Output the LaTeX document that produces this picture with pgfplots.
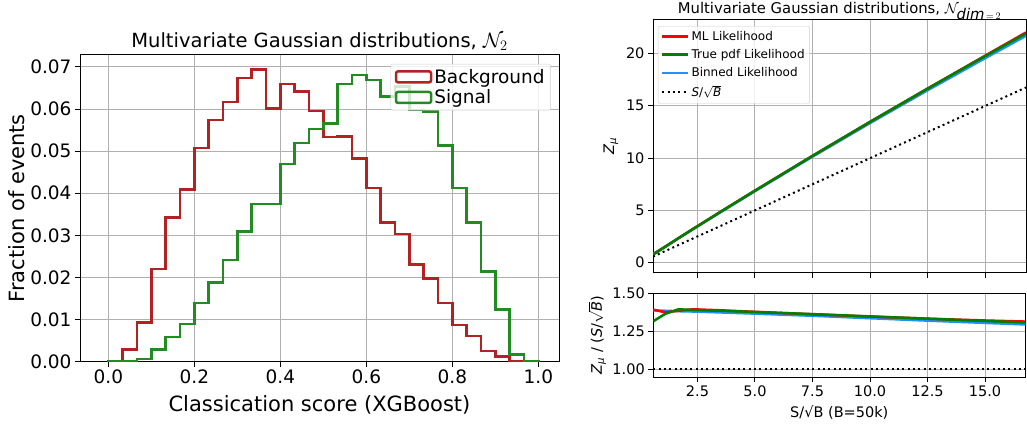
\documentclass[border=0pt]{standalone}
\usepackage{fontspec}
\setmainfont{DejaVu Sans}
\usepackage{pgfplots}
\pgfplotsset{compat=1.18}

\definecolor{bgred}{RGB}{178,34,34}
\definecolor{sggreen}{RGB}{34,139,34}
\definecolor{mlred}{RGB}{255,0,0}
\definecolor{tgreen}{RGB}{0,128,0}
\definecolor{bblue}{RGB}{30,144,255}
\definecolor{gridgray}{RGB}{176,176,176}

\pgfplotsset{
  every axis title shift=0pt,
  mpl/.style={
    scale only axis,
    axis line style={line width=1pt, black},
    grid=major,
    grid style={gridgray, line width=1pt},
    tick align=outside,
    major tick length=5pt,
    tick style={black, line width=1pt},
    xtick pos=left, ytick pos=left,
    scaled ticks=false,
    legend cell align=left,
  },
}

\begin{document}
\begin{tikzpicture}
\useasboundingbox (0,0) rectangle (1027pt,426pt);

% ---------------- Left: histogram ----------------
\begin{axis}[mpl,
  at={(80pt,64.3pt)}, anchor=south west,
  width=479pt, height=307pt,
  xmin=-0.066, xmax=1.048, ymin=0, ymax=0.0729,
  xtick={0,0.2,0.4,0.6,0.8,1.0},
  xticklabels={0.0,0.2,0.4,0.6,0.8,1.0},
  ytick={0,0.01,0.02,0.03,0.04,0.05,0.06,0.07},
  yticklabels={0.00,0.01,0.02,0.03,0.04,0.05,0.06,0.07},
  tick label style={font=\fontsize{18.5}{21}\selectfont},
  xlabel={Classication score (XGBoost)},
  ylabel={Fraction of events},
  label style={font=\fontsize{21}{24}\selectfont},
  x label style={at={(axis description cs:0.5,-0.141)}, anchor=center},
  y label style={at={(axis description cs:-0.1315,0.5)}, anchor=center, rotate=0},
  title={Multivariate Gaussian distributions, $\mathcal{N}_2$},
  title style={font=\fontsize{19.5}{22}\selectfont, at={(axis description cs:0.5,1.025)}, anchor=base},
  legend image code/.code={\draw[#1] (0pt,-5.5pt) rectangle (35pt,5.5pt);},
  legend style={at={(axis description cs:0.983,0.970)}, anchor=north east,
    draw=gray!40, fill=white, fill opacity=0.8, text opacity=1, rounded corners=2pt,
    font=\fontsize{18.5}{21}\selectfont, row sep=1pt, inner xsep=4pt, inner ysep=3pt},
]
\addplot[const plot, bgred, line width=2.5pt] coordinates {
(0,0) (0,0.0002) (0.0333,0.0029) (0.0667,0.0093) (0.1,0.0220) (0.1333,0.0343)
(0.1667,0.0409) (0.2,0.0508) (0.2333,0.0574) (0.2667,0.0617) (0.3,0.0674)
(0.3333,0.0694) (0.3667,0.0601) (0.4,0.0660) (0.4333,0.0642) (0.4667,0.0595)
(0.5,0.0533) (0.5333,0.0535) (0.5667,0.0483) (0.6,0.0413) (0.6333,0.0331)
(0.6667,0.0303) (0.7,0.0231) (0.7333,0.0198) (0.7667,0.0139) (0.8,0.0087)
(0.8333,0.0061) (0.8667,0.0026) (0.9,0.0012) (0.9333,0.0002) (0.9667,0.0)
(1.0,0.0) (1.0,0)
};
\addlegendentry{Background}
\addplot[const plot, sggreen, line width=2.5pt] coordinates {
(0,0) (0,0.0) (0.0333,0.0002) (0.0667,0.0007) (0.1,0.0029) (0.1333,0.0059)
(0.1667,0.0089) (0.2,0.0139) (0.2333,0.0188) (0.2667,0.0241) (0.3,0.0309)
(0.3333,0.0374) (0.3667,0.0374) (0.4,0.0469) (0.4333,0.0519) (0.4667,0.0553)
(0.5,0.0566) (0.5333,0.0660) (0.5667,0.0681) (0.6,0.0669) (0.6333,0.0630)
(0.6667,0.0654) (0.7,0.0598) (0.7333,0.0594) (0.7667,0.0513) (0.8,0.0413)
(0.8333,0.0331) (0.8667,0.0214) (0.9,0.0124) (0.9333,0.0017) (0.9667,0.0002)
(1.0,0.0002) (1.0,0)
};
\addlegendentry{Signal}
\end{axis}

% ---------------- Right top: Z vs S/sqrt(B) ----------------
\begin{axis}[mpl,
  at={(653pt,153.3pt)}, anchor=south west,
  width=373pt, height=252.7pt,
  xmin=0.58, xmax=16.75, ymin=-0.96, ymax=23.2,
  xtick={2.5,5,7.5,10,12.5,15}, xticklabels={},
  ytick={0,5,10,15,20}, yticklabels={0,5,10,15,20},
  tick label style={font=\fontsize{14.5}{17}\selectfont},
  ylabel={\textit{Z}\textsubscript{\textit{μ}}},
  label style={font=\fontsize{14.5}{17}\selectfont},
  y label style={at={(axis description cs:-0.113,0.5)}, anchor=center},
  title={Multivariate Gaussian distributions, $\mathcal{N}_{\textit{dim}\,=\,2}$},
  title style={font=\fontsize{14.8}{17}\selectfont, at={(axis description cs:0.5,1.0265)}, anchor=base},
  legend image code/.code={\draw[#1] (0pt,0pt) -- (26pt,0pt);},
  legend style={at={(axis description cs:0.013,0.976)}, anchor=north west,
    draw=gray!40, fill=white, fill opacity=0.8, text opacity=1, rounded corners=2pt,
    font=\fontsize{12}{14}\selectfont, row sep=3.5pt, inner xsep=3pt, inner ysep=3pt},
]
\addlegendimage{mlred, line width=2.5pt}
\addlegendentry{ML Likelihood}
\addlegendimage{tgreen, line width=2.5pt}
\addlegendentry{True pdf Likelihood}
\addlegendimage{bblue, line width=2.5pt}
\addlegendentry{Binned Likelihood}
\addlegendimage{black, line width=2pt, dash pattern=on 2pt off 3.3pt}
\addlegendentry{\textit{S}/$\sqrt{\textit{B}}$}
\addplot[bblue, line width=2.5pt, forget plot] coordinates {
(0.58,0.805) (1.1,1.524) (1.68,2.322) (2.3,3.174) (3.5,4.809) (5,6.83)
(7.5,10.14) (10,13.36) (12.5,16.5) (15,19.575) (16.75,21.691)};
\addplot[mlred, line width=2.5pt, forget plot] coordinates {
(0.58,0.807) (1.1,1.513) (1.68,2.327) (2.3,3.209) (3.5,4.858) (5,6.89)
(7.5,10.215) (10,13.47) (12.5,16.663) (15,19.815) (16.75,22.01)};
\addplot[tgreen, line width=2.5pt, forget plot] coordinates {
(0.58,0.763) (1.1,1.502) (1.68,2.344) (2.3,3.197) (3.5,4.848) (5,6.885)
(7.5,10.223) (10,13.48) (12.5,16.663) (15,19.77) (16.75,21.909)};
\addplot[black, line width=2pt, dash pattern=on 2pt off 3.3pt, forget plot] coordinates {
(0.58,0.58) (16.75,16.75)};
\end{axis}

% ---------------- Right bottom: ratio ----------------
\begin{axis}[mpl,
  at={(653.3pt,48.7pt)}, anchor=south west,
  width=372pt, height=84pt,
  xmin=0.58, xmax=16.75, ymin=0.947, ymax=1.5,
  xtick={2.5,5,7.5,10,12.5,15},
  xticklabels={2.5,5.0,7.5,10.0,12.5,15.0},
  ytick={1,1.25,1.5}, yticklabels={1.00,1.25,1.50},
  tick label style={font=\fontsize{14.5}{17}\selectfont},
  xlabel={S/√B (B=50k)},
  ylabel={\textit{Z}\textsubscript{\textit{μ}} / (\textit{S}/$\sqrt{\textit{B}}$)},
  label style={font=\fontsize{14.5}{17}\selectfont},
  x label style={at={(axis description cs:0.5,-0.425)}, anchor=center},
  y label style={at={(axis description cs:-0.151,0.5)}, anchor=center},
]
\addplot[bblue, line width=2.5pt] coordinates {
(0.58,1.388) (1.1,1.385) (1.68,1.382) (2.3,1.380) (3.5,1.374) (5,1.366)
(7.5,1.352) (10,1.336) (12.5,1.320) (15,1.305) (16.75,1.295)};
\addplot[mlred, line width=2.5pt] coordinates {
(0.58,1.392) (1.1,1.375) (1.68,1.385) (2.3,1.395) (3.5,1.388) (5,1.378)
(7.5,1.362) (10,1.347) (12.5,1.333) (15,1.321) (16.75,1.314)};
\addplot[tgreen, line width=2.5pt] coordinates {
(0.58,1.316) (1.1,1.365) (1.68,1.395) (2.3,1.390) (3.5,1.385) (5,1.377)
(7.5,1.363) (10,1.348) (12.5,1.333) (15,1.318) (16.75,1.308)};
\addplot[black, line width=2pt, dash pattern=on 2pt off 3.3pt] coordinates {
(0.58,1.0) (16.75,1.0)};
\end{axis}
\end{tikzpicture}
\end{document}
